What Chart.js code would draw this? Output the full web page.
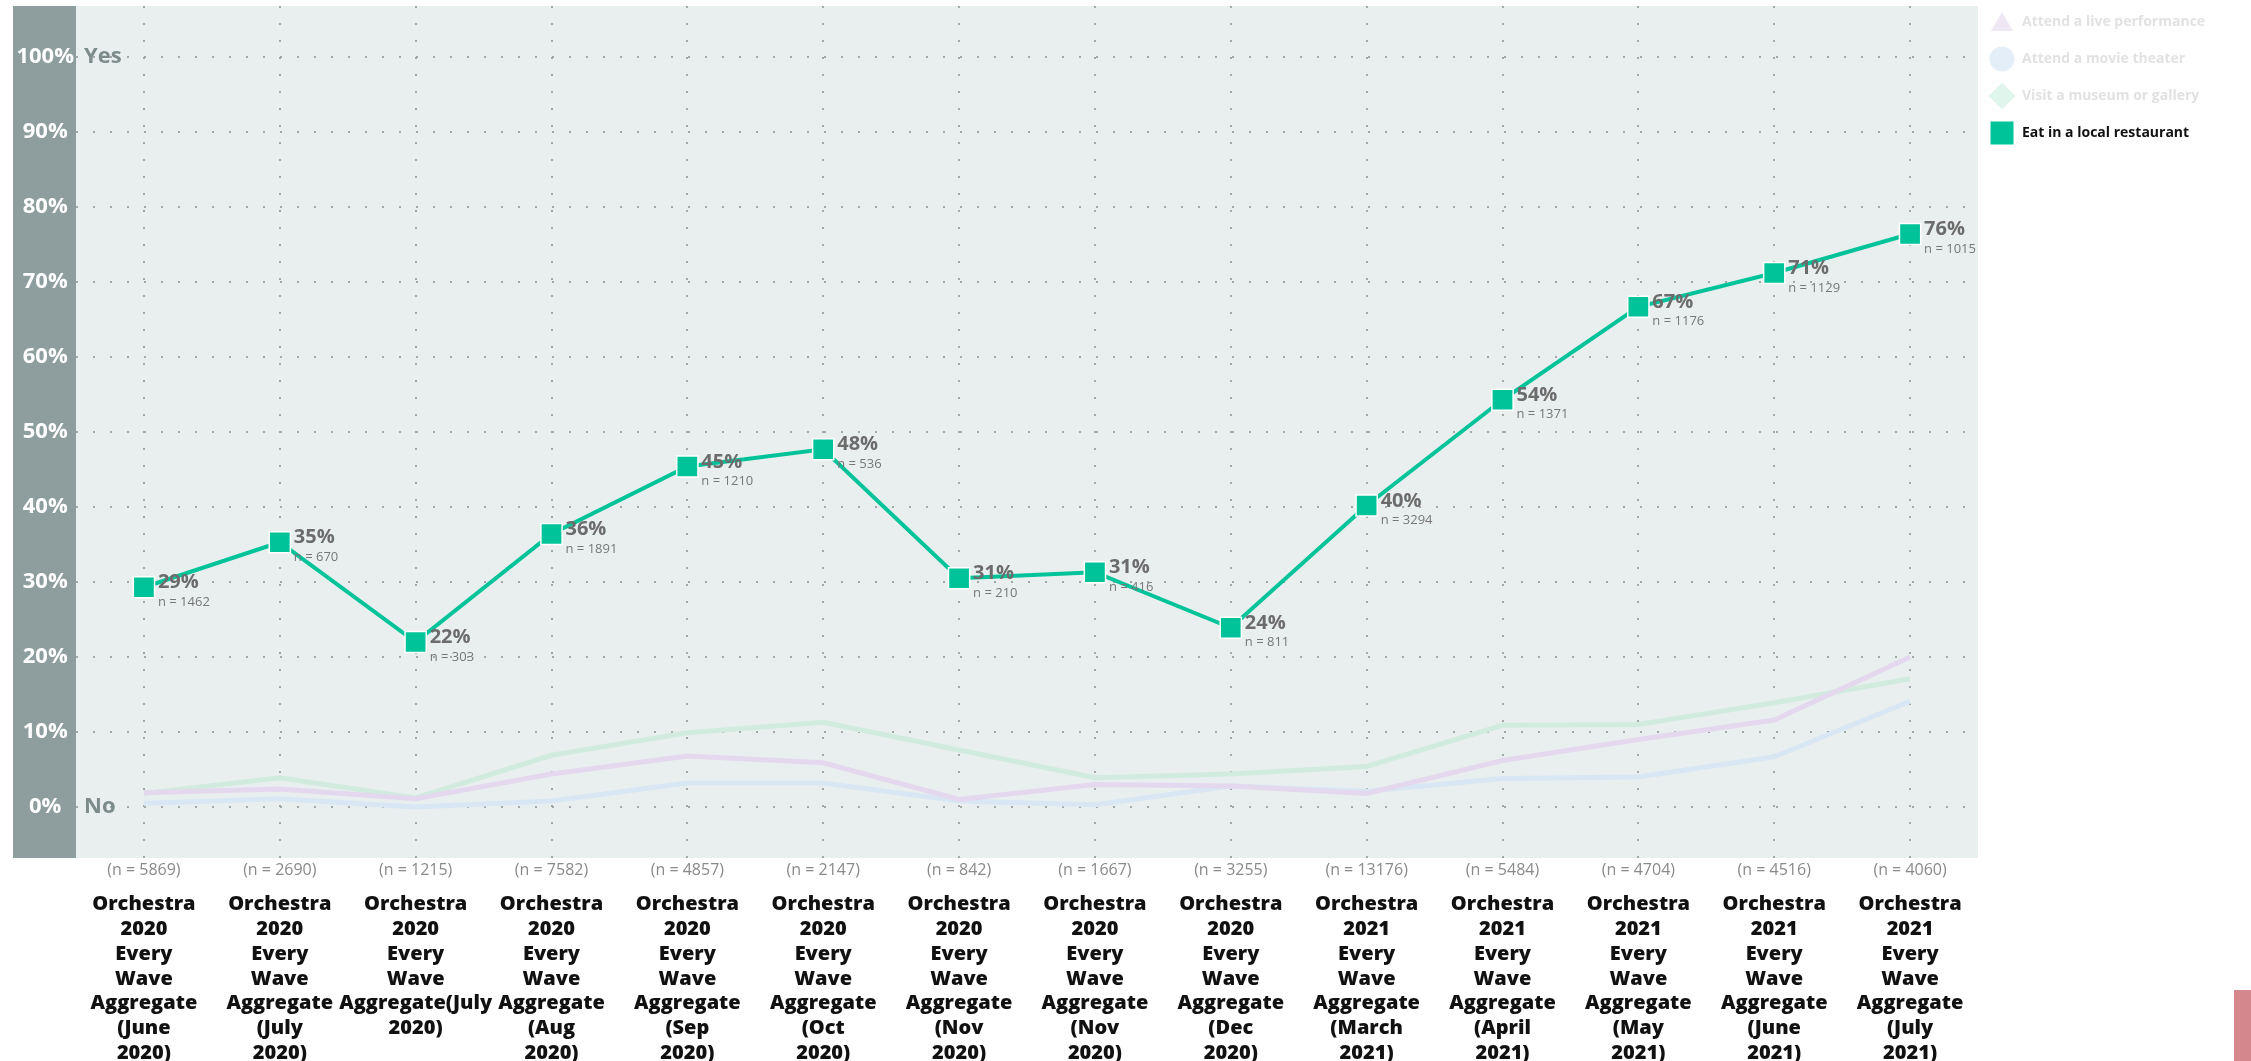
<!DOCTYPE html>
<html><head><meta charset="utf-8">
<script src="https://cdn.jsdelivr.net/npm/chart.js@4.4.1/dist/chart.umd.min.js"></script>
<style>html,body{margin:0;padding:0;background:#fff;overflow:hidden}#wrap{width:2251px;height:1061px;position:relative}</style>
</head><body><div id="wrap"><canvas id="c" width="2251" height="1061"></canvas></div>
<script>
// ---------- data ----------
const categories = [
  ["Orchestra","2020","Every","Wave","Aggregate","(June","2020)"],
  ["Orchestra","2020","Every","Wave","Aggregate","(July","2020)"],
  ["Orchestra","2020","Every","Wave","Aggregate(July","2020)"],
  ["Orchestra","2020","Every","Wave","Aggregate","(Aug","2020)"],
  ["Orchestra","2020","Every","Wave","Aggregate","(Sep","2020)"],
  ["Orchestra","2020","Every","Wave","Aggregate","(Oct","2020)"],
  ["Orchestra","2020","Every","Wave","Aggregate","(Nov","2020)"],
  ["Orchestra","2020","Every","Wave","Aggregate","(Nov","2020)"],
  ["Orchestra","2020","Every","Wave","Aggregate","(Dec","2020)"],
  ["Orchestra","2021","Every","Wave","Aggregate","(March","2021)"],
  ["Orchestra","2021","Every","Wave","Aggregate","(April","2021)"],
  ["Orchestra","2021","Every","Wave","Aggregate","(May","2021)"],
  ["Orchestra","2021","Every","Wave","Aggregate","(June","2021)"],
  ["Orchestra","2021","Every","Wave","Aggregate","(July","2021)"]
];
const sampleSizes = ["(n = 5869)","(n = 2690)","(n = 1215)","(n = 7582)","(n = 4857)","(n = 2147)","(n = 842)",
  "(n = 1667)","(n = 3255)","(n = 13176)","(n = 5484)","(n = 4704)","(n = 4516)","(n = 4060)"];
const seriesNames = ["Attend a live performance","Attend a movie theater","Visit a museum or gallery","Eat in a local restaurant"];
const livePerformance = [1.9, 2.4, 1.1, 4.4, 6.8, 5.9, 1.0, 3.0, 2.8, 1.8, 6.2, 9.0, 11.6, 20.0];
const movieTheater    = [0.5, 1.1, 0.0, 0.8, 3.2, 3.2, 0.8, 0.3, 2.8, 2.1, 3.8, 4.0, 6.7, 14.1];
const museumGallery   = [1.8, 3.9, 1.2, 6.9, 9.9, 11.3, 7.6, 3.9, 4.4, 5.4, 10.9, 11.0, 13.9, 17.1];
const localRestaurant = [29.3, 35.3, 22.0, 36.4, 45.4, 47.7, 30.5, 31.3, 23.9, 40.2, 54.3, 66.7, 71.2, 76.4];
const restaurantN     = [1462, 670, 303, 1891, 1210, 536, 210, 416, 811, 3294, 1371, 1176, 1129, 1015];
const yTicks = [0,10,20,30,40,50,60,70,80,90,100];
const endLabelValues = [100, 0];
const endLabelTexts = ["Yes", "No"];

// ---------- styles ----------
const FONT = '"Open Sans", "DejaVu Sans", sans-serif';
const lineColors = ['#e4d8ee', '#d9e6f3', '#d2ebdf', '#00c39a'];
const legendMarkerColors = ['#efe7f4', '#e4eef9', '#e0f5ec', '#00c39a'];
const legendTextColors = ['#e2e2e2', '#e2e2e2', '#e2e2e2', '#111111'];
const legendShapes = ['triangle', 'circle', 'diamond', 'square'];
const plotBg = '#e9efef';
const stripBg = '#8e9e9e';
const gridColor = '#a2a8a8';

function makeMarker(shape, color) {
  const c = document.createElement('canvas');
  c.width = 28; c.height = 28;
  const g = c.getContext('2d');
  g.fillStyle = color;
  g.beginPath();
  if (shape === 'triangle') { g.moveTo(14, 4); g.lineTo(25, 23); g.lineTo(3, 23); g.closePath(); }
  else if (shape === 'circle') { g.arc(14, 14, 12.5, 0, Math.PI * 2); }
  else if (shape === 'diamond') { g.moveTo(14, 0.5); g.lineTo(27.5, 14); g.lineTo(14, 27.5); g.lineTo(0.5, 14); g.closePath(); }
  else { g.rect(2.5, 2.5, 23, 23); }
  g.fill();
  return c;
}

const decorPlugin = {
  id: 'decor',
  afterLayout(chart) {
    const lg = chart.legend, a = chart.chartArea;
    if (lg) {
      lg.left = a.right - 12;
      lg.right = chart.width;
      lg.width = lg.right - lg.left;
      lg.top = a.top - 14;
      lg.bottom = chart.height;
      lg.height = lg.bottom - lg.top;
    }
  },
  beforeDraw(chart) {
    const {ctx, chartArea: a} = chart;
    const y = chart.scales.y;
    ctx.save();
    ctx.fillStyle = plotBg;
    ctx.fillRect(a.left, a.top, a.right - a.left, a.bottom - a.top);
    ctx.fillStyle = stripBg;
    ctx.fillRect(y.left, a.top, a.left - y.left, a.bottom - a.top);
    ctx.restore();
  },
  afterDatasetsDraw(chart) {
    const ctx = chart.ctx;
    const meta = chart.getDatasetMeta(3);
    ctx.save();
    meta.data.forEach((pt, i) => {
      ctx.textAlign = 'left';
      ctx.textBaseline = 'alphabetic';
      ctx.fillStyle = '#6c6c6c';
      ctx.font = 'bold 20px ' + FONT;
      ctx.fillText(Math.round(localRestaurant[i]) + '%', pt.x + 14, pt.y + 1);
      ctx.textBaseline = 'middle';
      ctx.fillStyle = '#777777';
      ctx.font = '13px ' + FONT;
      ctx.fillText('n = ' + restaurantN[i], pt.x + 14, pt.y + 15);
    });
    ctx.restore();
  },
  afterDraw(chart) {
    const {ctx, chartArea: a} = chart;
    const y = chart.scales.y;
    ctx.save();
    ctx.font = 'bold 22px ' + FONT;
    ctx.fillStyle = '#7d8b8b';
    ctx.textAlign = 'left';
    ctx.textBaseline = 'middle';
    endLabelValues.forEach((v, i) => ctx.fillText(endLabelTexts[i], a.left + 8, y.getPixelForValue(v)));
    ctx.fillStyle = '#d4878d';
    ctx.fillRect(chart.width - 17, chart.height - 71, 17, 71);
    ctx.restore();
  }
};

const seriesData = [livePerformance, movieTheater, museumGallery, localRestaurant];
const datasets = seriesData.map((d, i) => {
  const main = i === 3;
  return {
    label: seriesNames[i],
    data: d,
    xAxisID: 'x',
    yAxisID: 'y',
    borderColor: lineColors[i],
    backgroundColor: lineColors[i],
    borderWidth: main ? 4 : 5,
    tension: 0,
    fill: false,
    order: main ? 0 : 1,
    pointStyle: main ? 'rect' : 'circle',
    pointRadius: main ? 15 : 0,
    pointHoverRadius: main ? 15 : 0,
    pointBackgroundColor: lineColors[i],
    pointBorderColor: '#ffffff',
    pointBorderWidth: main ? 1.5 : 0
  };
});

function noPad(s) { s.paddingTop = 0; s.paddingBottom = 0; s.paddingLeft = 0; s.paddingRight = 0; }

new Chart(document.getElementById('c').getContext('2d'), {
  type: 'line',
  data: { labels: categories, datasets },
  plugins: [decorPlugin],
  options: {
    responsive: false,
    animation: false,
    layout: { autoPadding: false, padding: { left: 13, top: 6, right: 73, bottom: 0 } },
    plugins: {
      tooltip: { enabled: false },
      legend: {
        display: true,
        position: 'right',
        align: 'start',
        maxWidth: 200,
        labels: {
          usePointStyle: true,
          pointStyleWidth: 26,
          padding: 23,
          font: { family: FONT, size: 14, weight: 'bold' },
          generateLabels: (chart) => chart.data.datasets.map((ds, i) => ({
            text: ds.label,
            fillStyle: legendMarkerColors[i],
            strokeStyle: legendMarkerColors[i],
            lineWidth: 0,
            hidden: false,
            datasetIndex: i,
            pointStyle: makeMarker(legendShapes[i], legendMarkerColors[i]),
            fontColor: legendTextColors[i]
          }))
        }
      }
    },
    scales: {
      x: {
        type: 'category',
        position: 'bottom',
        offset: true,
        weight: 10,
        grid: { display: false },
        border: { display: false },
        ticks: {
          color: '#111111',
          font: { family: FONT, size: 20, weight: 800, lineHeight: 1.24 },
          padding: 4,
          maxRotation: 0,
          minRotation: 0,
          autoSkip: false
        },
        afterFit: (s) => { s.height = 181; noPad(s); }
      },
      xn: {
        type: 'category',
        position: 'bottom',
        labels: sampleSizes,
        offset: true,
        weight: 0,
        grid: { display: true, drawTicks: false, offset: false, color: gridColor, lineWidth: 2 },
        border: { display: false, dash: [2, 15] },
        ticks: {
          color: '#8a8a8a',
          font: { family: FONT, size: 16, lineHeight: 1.2 },
          padding: 3,
          maxRotation: 0,
          minRotation: 0,
          autoSkip: false
        },
        afterFit: (s) => { s.height = 22; noPad(s); }
      },
      y: {
        type: 'linear',
        position: 'left',
        min: -6.8,
        max: 106.8,
        afterBuildTicks: (s) => { s.ticks = yTicks.map(v => ({ value: v })); },
        grid: { display: true, drawTicks: false, color: gridColor, lineWidth: 2 },
        border: { display: false, dash: [2, 15] },
        ticks: {
          color: '#ffffff',
          font: { family: FONT, size: 22, weight: 'bold' },
          padding: 2,
          crossAlign: 'center',
          callback: (v) => v + '%'
        },
        afterFit: (s) => { s.width = 63; noPad(s); }
      }
    }
  }
});
</script>
</body></html>
